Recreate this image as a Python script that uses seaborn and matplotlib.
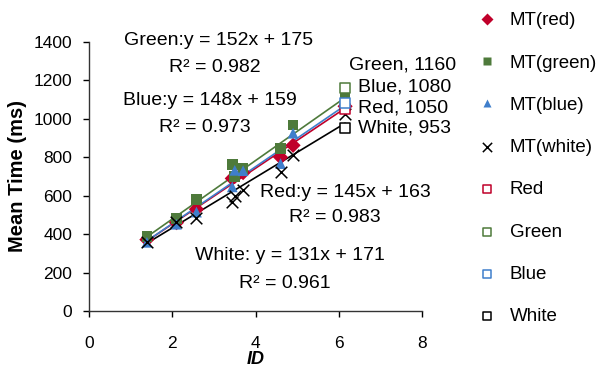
import numpy as np
import pandas as pd
import matplotlib
matplotlib.use("Agg")
import matplotlib.pyplot as plt
import seaborn as sns

# 読み取った値
ids = [1.39, 2.1, 2.58, 3.44, 3.5, 3.7, 4.6, 4.9, 6.15]
mt_red = [372, 460, 530, 690, 700, 720, 800, 862, 1065]
mt_green = [390, 483, 580, 764, 700, 741, 845, 968, 1113]
mt_blue = [358, 452, 515, 646, 732, 730, 767, 925, 1087]
mt_white = [360, 464, 485, 570, 600, 629, 724, 810, 1027]

names = ["red", "green", "blue", "white"]
colors = ["#C0002A", "#4E7A3B", "#3F7ECB", "black"]
fit_slope = [145, 152, 148, 131]
fit_icpt = [163, 175, 159, 171]
fit_r2 = [0.983, 0.982, 0.973, 0.961]

end_names = ["Red", "Green", "Blue", "White"]
end_values = [1050, 1160, 1080, 953]

sns.set_theme(style="white")
plt.rcParams["font.family"] = ["Liberation Sans", "DejaVu Sans"]
plt.rcParams["text.color"] = "black"
plt.rcParams["axes.labelcolor"] = "black"

df = pd.DataFrame({
    "ID": ids * 3,
    "MT": mt_red + mt_green + mt_blue,
    "series": sum([["MT(%s)" % n] * len(ids) for n in names[:3]], []),
})

fig = plt.figure(figsize=(6.1, 3.7), dpi=100)
ax = fig.add_axes([0.146, 0.159, 0.546, 0.728])

# 近似直線
for i, n in enumerate(names):
    xs = np.array([ids[0], ids[-1]])
    sns.lineplot(x=xs, y=fit_slope[i] * xs + fit_icpt[i], color=colors[i],
                 linewidth=1.2, ax=ax, legend=False)

sns.scatterplot(data=df, x="ID", y="MT", hue="series", style="series",
                palette=dict(zip(["MT(%s)" % n for n in names[:3]], colors[:3])),
                markers=dict(zip(["MT(%s)" % n for n in names[:3]], ["D", "s", "^"])),
                s=60, edgecolor="none", ax=ax, zorder=3)
sns.scatterplot(x=ids, y=mt_white, marker="x", s=70, color="black", linewidth=1.1,
                ax=ax, label="MT(white)", zorder=3)

for i, n in enumerate(end_names):
    sns.scatterplot(x=[ids[-1]], y=[end_values[i]], marker="s", s=42, color="white",
                    edgecolor=colors[i], linewidth=1.1, ax=ax, label=n, zorder=4)

ax.set_xlim(0, 8)
ax.set_ylim(0, 1400)
ax.set_xticks(range(0, 9, 2))
ax.set_yticks(range(0, 1401, 200))
ax.set_xlabel("ID", fontsize=13, fontweight="bold", fontstyle="italic", labelpad=0)
ax.set_ylabel("Mean Time (ms)", fontsize=14.5, fontweight="bold", labelpad=5)
ax.tick_params(labelsize=12.5, length=4, width=1, direction="out", bottom=True, left=True,
               colors="black")
ax.tick_params(axis="x", pad=14)
ax.tick_params(axis="y", pad=8)
for s in ["top", "right"]:
    ax.spines[s].set_visible(False)
for s in ["left", "bottom"]:
    ax.spines[s].set_color("#333333")
    ax.spines[s].set_linewidth(1)

# 式とR2
eq_pos = {"green": (3.1, 1409, 3.03, 1268), "blue": (2.91, 1097, 2.79, 957),
          "red": (6.15, 619, 5.91, 489), "white": (4.83, 291, 4.71, 146)}
eq_fmt = {"green": "Green:y = %dx + %d", "blue": "Blue:y = %dx + %d",
          "red": "Red:y = %dx + %d", "white": "White: y = %dx + %d"}
for i, n in enumerate(names):
    x1, y1, x2, y2 = eq_pos[n]
    ax.text(x1, y1, eq_fmt[n] % (fit_slope[i], fit_icpt[i]), ha="center", va="center",
            fontsize=14, clip_on=False)
    ax.text(x2, y2, "R² = %.3f" % fit_r2[i], ha="center", va="center", fontsize=14, clip_on=False)

lab_y = {"Green": 1279, "Blue": 1166, "Red": 1054, "White": 950}
lab_x = {"Green": 6.25, "Blue": 6.45, "Red": 6.45, "White": 6.45}
for i, n in enumerate(end_names):
    ax.text(lab_x[n], lab_y[n], "%s, %d" % (n, end_values[i]), ha="left", va="center",
            fontsize=14, clip_on=False)

h, l = ax.get_legend_handles_labels()
ax.get_legend().remove()
fig.legend(h, l, loc="upper left", bbox_to_anchor=(0.76, 1.0), frameon=False,
           fontsize=13.5, labelspacing=1.34, handletextpad=0.6, borderaxespad=0.25,
           handlelength=1.2, markerscale=0.8)

fig.savefig("out.png", dpi=100)
